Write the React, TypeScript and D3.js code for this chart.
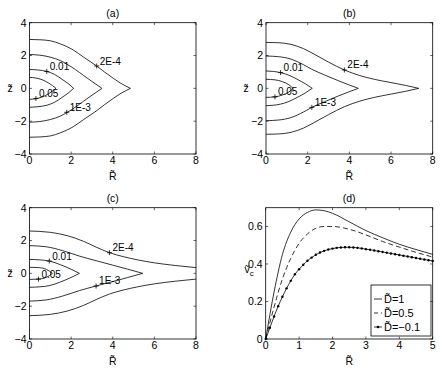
import React from 'react';
import * as d3 from 'd3';

// contour levels, innermost first
const levels = ['0.05', '0.01', '1E-3', '2E-4'];

// upper half of each contour as [R, z]; the lower half is its mirror in z = 0
const contA05 = [[0, 0.67], [0.3, 0.63], [0.6, 0.53], [0.9, 0.34], [1.1, 0.17], [1.27, 0]];
const contA01 = [[0, 1.15], [0.4, 1.12], [0.83, 1.03], [1.2, 0.85], [1.6, 0.52], [1.9, 0.25], [2.12, 0]];
const contA1e3 = [[0, 2.06], [0.5, 2.02], [1, 1.9], [1.5, 1.68], [1.8, 1.47], [2.2, 1.15], [2.6, 0.78], [3, 0.42], [3.48, 0]];
const contA2e4 = [[0, 2.98], [0.5, 2.96], [1, 2.9], [1.5, 2.7], [2.1, 2.34], [2.6, 1.9], [3.23, 1.36], [3.6, 1.0], [4.03, 0.61], [4.4, 0.3], [4.85, 0]];

const contB05 = [[0, 0.55], [0.43, 0.52], [0.8, 0.4], [1.1, 0.22], [1.3, 0]];
const contB01 = [[0, 1.06], [0.35, 1.03], [0.7, 0.96], [1.1, 0.8], [1.5, 0.55], [1.9, 0.27], [2.22, 0]];
const contB1e3 = [[0, 1.97], [0.6, 1.93], [1.2, 1.78], [1.8, 1.44], [2.2, 1.16], [2.8, 0.82], [3.5, 0.45], [4.43, 0]];
const contB2e4 = [[0, 2.8], [0.6, 2.78], [1.2, 2.68], [1.8, 2.42], [2.4, 2.02], [3, 1.6], [3.76, 1.12], [4.5, 0.78], [5.2, 0.55], [6, 0.35], [6.7, 0.18], [7.33, 0]];

const contC05 = [[0, 0.37], [0.43, 0.35], [0.8, 0.25], [1.1, 0]];
const contC01 = [[0, 0.85], [0.5, 0.82], [0.95, 0.75], [1.5, 0.52], [2, 0.25], [2.4, 0]];
const contC1e3 = [[0, 1.69], [0.8, 1.62], [1.6, 1.38], [2.4, 1.05], [3.2, 0.77], [4, 0.5], [4.7, 0.26], [5.44, 0]];
const contC2e4 = [[0, 2.58], [1, 2.5], [1.8, 2.3], [2.6, 1.95], [3.2, 1.6], [3.84, 1.26], [4.5, 1.02], [5.2, 0.82], [6, 0.64], [7, 0.48], [8, 0.35]];

// clabel positions [R, z] per level (same order as levels)
const labelsA = [[0.31, -0.62], [0.83, 1.03], [1.79, -1.46], [3.23, 1.36]];
const labelsB = [[0.43, -0.52], [0.7, 0.96], [2.2, -1.16], [3.76, 1.12]];
const labelsC = [[0.43, -0.35], [0.95, 0.75], [3.2, -0.77], [3.84, 1.26]];

// panel (d): circular velocity
const rCurve = [0, 0.25, 0.5, 0.75, 1, 1.25, 1.5, 1.75, 2, 2.5, 3, 3.5, 4, 4.5, 5];
const vD1 = [0, 0.25, 0.45, 0.57, 0.64, 0.675, 0.688, 0.684, 0.67, 0.625, 0.578, 0.54, 0.505, 0.477, 0.451];
const vD05 = [0, 0.17, 0.32, 0.43, 0.51, 0.56, 0.59, 0.6, 0.6, 0.585, 0.555, 0.52, 0.49, 0.462, 0.437];
const rMarked = [0, 0.125, 0.25, 0.375, 0.5, 0.625, 0.75, 0.875, 1, 1.125, 1.25, 1.375, 1.5, 1.625, 1.75, 1.875, 2, 2.125, 2.25, 2.375, 2.5, 2.625, 2.75, 2.875, 3, 3.125, 3.25, 3.375, 3.5, 3.625, 3.75, 3.875, 4, 4.125, 4.25, 4.375, 4.5, 4.625, 4.75, 4.875, 5];
const vDm01 = [0, 0.06, 0.12, 0.175, 0.225, 0.27, 0.31, 0.345, 0.372, 0.396, 0.417, 0.434, 0.449, 0.461, 0.47, 0.477, 0.482, 0.486, 0.488, 0.489, 0.489, 0.488, 0.486, 0.483, 0.479, 0.476, 0.472, 0.468, 0.464, 0.46, 0.456, 0.452, 0.448, 0.444, 0.44, 0.436, 0.432, 0.428, 0.424, 0.42, 0.416];
const legendLabels = ['D\u0303=1', 'D\u0303=0.5', 'D\u0303=\u22120.1'];

const contourTicksX = [0, 2, 4, 6, 8];
const contourTicksY = [-4, -2, 0, 2, 4];
const vTicksX = [0, 1, 2, 3, 4, 5];
const vTicksY = [0, 0.2, 0.4, 0.6];

const font = 'Liberation Sans, Arial, Helvetica, sans-serif';
const fmt = (v) => (v < 0 ? '\u2212' + Math.abs(v) : String(v));

function Axes({ box, x, y, xTicks, yTicks, title, yLabel, children }) {
  const { x0, x1, y0, y1 } = box;
  const tl = 2.5;
  return (
    <g>
      {children}
      <rect x={x0} y={y0} width={x1 - x0} height={y1 - y0} fill="none" stroke="#000" strokeWidth={0.8} />
      {xTicks.map((t) => (
        <g key={'x' + t}>
          <line x1={x(t)} x2={x(t)} y1={y1} y2={y1 - tl} stroke="#000" strokeWidth={0.6} />
          <line x1={x(t)} x2={x(t)} y1={y0} y2={y0 + tl} stroke="#000" strokeWidth={0.6} />
          <text x={x(t)} y={y1 + 10} textAnchor="middle" fontSize={10.5} fontFamily={font}>{fmt(t)}</text>
        </g>
      ))}
      {yTicks.map((t) => (
        <g key={'y' + t}>
          <line x1={x0} x2={x0 + tl} y1={y(t)} y2={y(t)} stroke="#000" strokeWidth={0.6} />
          <line x1={x1} x2={x1 - tl} y1={y(t)} y2={y(t)} stroke="#000" strokeWidth={0.6} />
          <text x={x0 - 3} y={y(t) + 3.8} textAnchor="end" fontSize={10.5} fontFamily={font}>{fmt(t)}</text>
        </g>
      ))}
      <text x={(x0 + x1) / 2} y={y0 - 6} textAnchor="middle" fontSize={10.5} fontFamily={font}>{title}</text>
      <text x={(x0 + x1) / 2} y={y1 + 25.5} textAnchor="middle" fontSize={10.5} fontFamily={font}>{'R\u0303'}</text>
      {yLabel}
    </g>
  );
}

function ContourPanel({ box, title, contours, labels, yLabelX }) {
  const x = d3.scaleLinear().domain([0, 8]).range([box.x0, box.x1]);
  const y = d3.scaleLinear().domain([-4, 4]).range([box.y1, box.y0]);
  const upper = d3.line().x((d) => x(d[0])).y((d) => y(d[1])).curve(d3.curveMonotoneX);
  const lower = d3.line().x((d) => x(d[0])).y((d) => y(-d[1])).curve(d3.curveMonotoneX);
  return (
    <Axes box={box} x={x} y={y} xTicks={contourTicksX} yTicks={contourTicksY} title={title}
      yLabel={<text x={yLabelX} y={y(0) + 3.8} textAnchor="middle" fontSize={10.5} fontFamily={font}>{'z\u0303'}</text>}>
      {contours.map((c, i) => (
        <g key={i}>
          <path d={upper(c)} fill="none" stroke="#000" strokeWidth={0.8} />
          <path d={lower(c)} fill="none" stroke="#000" strokeWidth={0.8} />
        </g>
      ))}
      {labels.map((p, i) => {
        const px = x(p[0]);
        const py = y(p[1]);
        return (
          <g key={'l' + i}>
            <path d={`M${px - 2.5},${py}H${px + 2.5}M${px},${py - 2.5}V${py + 2.5}`} stroke="#000" strokeWidth={0.8} />
            <text x={px + 3} y={py - 1.5} fontSize={10} fontFamily={font}>{levels[i]}</text>
          </g>
        );
      })}
    </Axes>
  );
}

function VelocityPanel({ box }) {
  const x = d3.scaleLinear().domain([0, 5]).range([box.x0, box.x1]);
  const y = d3.scaleLinear().domain([0, 0.7]).range([box.y1, box.y0]);
  const line = d3.line().x((d) => x(d[0])).y((d) => y(d[1])).curve(d3.curveMonotoneX);
  const s1 = rCurve.map((r, i) => [r, vD1[i]]);
  const s2 = rCurve.map((r, i) => [r, vD05[i]]);
  const s3 = rMarked.map((r, i) => [r, vDm01[i]]);
  const lg = { x0: 371, x1: 431, y0: 285, y1: 336 };
  const rows = [299, 313, 327];
  return (
    <Axes box={box} x={x} y={y} xTicks={vTicksX} yTicks={vTicksY} title="(d)"
      yLabel={
        <text x={249} y={y(0.35)} textAnchor="middle" fontSize={10.5} fontFamily={font}>
          {'v\u0303'}<tspan fontSize={8} dy={3}>c</tspan>
        </text>
      }>
      <path d={line(s1)} fill="none" stroke="#000" strokeWidth={0.8} />
      <path d={line(s2)} fill="none" stroke="#000" strokeWidth={0.8} strokeDasharray="5,3" />
      <path d={line(s3)} fill="none" stroke="#000" strokeWidth={0.8} />
      {s3.map((d, i) => (
        <circle key={i} cx={x(d[0])} cy={y(d[1])} r={1.2} fill="#000" />
      ))}
      <rect x={lg.x0} y={lg.y0} width={lg.x1 - lg.x0} height={lg.y1 - lg.y0} fill="#fff" stroke="#000" strokeWidth={0.8} />
      {legendLabels.map((t, i) => (
        <g key={t}>
          <line x1={374} x2={382} y1={rows[i]} y2={rows[i]} stroke="#000" strokeWidth={0.8}
            strokeDasharray={i === 1 ? '4,3' : undefined} />
          {i === 2 && <circle cx={378} cy={rows[i]} r={1.3} fill="#000" />}
          <text x={384} y={rows[i] + 4} fontSize={11} fontFamily={font}>{t}</text>
        </g>
      ))}
    </Axes>
  );
}

export default function App() {
  const boxA = { x0: 29.5, x1: 196, y0: 22.7, y1: 154 };
  const boxB = { x0: 266, x1: 432.7, y0: 22.7, y1: 154 };
  const boxC = { x0: 29.5, x1: 196, y0: 207.7, y1: 339 };
  const boxD = { x0: 265.7, x1: 432.7, y0: 207.7, y1: 339 };
  return (
    <svg width={440} height={383} style={{ position: 'absolute', left: 0, top: 0, background: '#fff' }}>
      <ContourPanel box={boxA} title="(a)" contours={[contA05, contA01, contA1e3, contA2e4]} labels={labelsA} yLabelX={10} />
      <ContourPanel box={boxB} title="(b)" contours={[contB05, contB01, contB1e3, contB2e4]} labels={labelsB} yLabelX={246} />
      <ContourPanel box={boxC} title="(c)" contours={[contC05, contC01, contC1e3, contC2e4]} labels={labelsC} yLabelX={10} />
      <VelocityPanel box={boxD} />
    </svg>
  );
}
